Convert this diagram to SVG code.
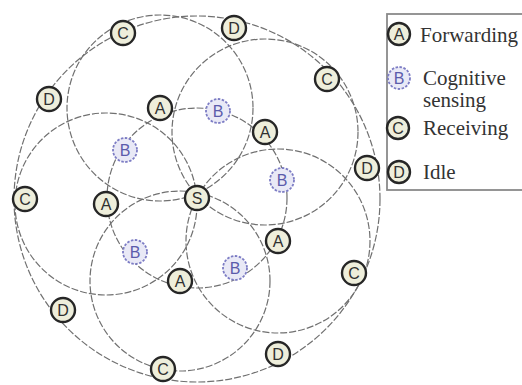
<svg xmlns="http://www.w3.org/2000/svg" width="522" height="385" viewBox="0 0 522 385">
<style>
.ring{fill:none;stroke:#707070;stroke-width:1.2;stroke-dasharray:7 2}
.n circle{fill:#eeeedb;stroke:#262626;stroke-width:2.4}
.n text{font-family:"Liberation Sans",Arial,sans-serif;font-size:16px;fill:#303030;text-anchor:middle;dominant-baseline:central}
.b circle{fill:#e9e9f6;stroke:#7c7cc4;stroke-width:1.8;stroke-dasharray:2.5 1.5}
.b text{font-family:"Liberation Sans",Arial,sans-serif;font-size:16px;fill:#5b5bab;text-anchor:middle;dominant-baseline:central}
.lg{font-family:"Liberation Serif","Times New Roman",serif;font-size:21px;fill:#333}
</style>
<rect width="522" height="385" fill="#fff"/>
<g id="connectors">
<circle class="ring" cx="197" cy="199" r="183"/>
<circle class="ring" cx="197" cy="198" r="90"/>
<circle class="ring" cx="160" cy="108" r="93"/>
<circle class="ring" cx="265" cy="132" r="93"/>
<circle class="ring" cx="278" cy="241" r="92"/>
<circle class="ring" cx="180" cy="281" r="90"/>
<circle class="ring" cx="106" cy="204" r="91"/>
</g>
<g id="S" class="n"><circle cx="197" cy="198" r="12"/><text x="197" y="198">S</text></g>
<g id="A1" class="n"><circle cx="160" cy="108" r="12"/><text x="160" y="108">A</text></g>
<g id="A2" class="n"><circle cx="265" cy="132" r="12"/><text x="265" y="132">A</text></g>
<g id="A3" class="n"><circle cx="278" cy="241" r="12"/><text x="278" y="241">A</text></g>
<g id="A4" class="n"><circle cx="180" cy="281" r="12"/><text x="180" y="281">A</text></g>
<g id="A5" class="n"><circle cx="106" cy="204" r="12"/><text x="106" y="204">A</text></g>
<g id="B1" class="b"><circle cx="218" cy="111" r="12"/><text x="218" y="111">B</text></g>
<g id="B2" class="b"><circle cx="282" cy="180" r="12"/><text x="282" y="180">B</text></g>
<g id="B3" class="b"><circle cx="235" cy="268" r="12"/><text x="235" y="268">B</text></g>
<g id="B4" class="b"><circle cx="135" cy="252" r="12"/><text x="135" y="252">B</text></g>
<g id="B5" class="b"><circle cx="125" cy="150" r="12"/><text x="125" y="150">B</text></g>
<g id="C1" class="n"><circle cx="123" cy="33" r="12"/><text x="123" y="33">C</text></g>
<g id="C2" class="n"><circle cx="327" cy="79" r="12"/><text x="327" y="79">C</text></g>
<g id="C3" class="n"><circle cx="354" cy="273" r="12"/><text x="354" y="273">C</text></g>
<g id="C4" class="n"><circle cx="163" cy="369" r="12"/><text x="163" y="369">C</text></g>
<g id="C5" class="n"><circle cx="25" cy="199" r="12"/><text x="25" y="199">C</text></g>
<g id="D1" class="n"><circle cx="234" cy="28" r="12"/><text x="234" y="28">D</text></g>
<g id="D2" class="n"><circle cx="367" cy="168" r="12"/><text x="367" y="168">D</text></g>
<g id="D3" class="n"><circle cx="278" cy="354" r="12"/><text x="278" y="354">D</text></g>
<g id="D4" class="n"><circle cx="63" cy="310" r="12"/><text x="63" y="310">D</text></g>
<g id="D5" class="n"><circle cx="49" cy="99" r="12"/><text x="49" y="99">D</text></g>
<g id="legend">
<rect x="387" y="14" width="140" height="176" fill="none" stroke="#8a8a8a" stroke-width="1.8"/>
<g class="n"><circle cx="399" cy="34" r="11"/><text x="399" y="34">A</text></g>
<text class="lg" x="420" y="42">Forwarding</text>
<g class="b"><circle cx="399" cy="78" r="11"/><text x="399" y="78">B</text></g>
<text class="lg" x="423" y="85">Cognitive</text>
<text class="lg" x="423" y="107">sensing</text>
<g class="n"><circle cx="398" cy="128" r="11"/><text x="398" y="128">C</text></g>
<text class="lg" x="423" y="135">Receiving</text>
<g class="n"><circle cx="399" cy="172" r="11"/><text x="399" y="172">D</text></g>
<text class="lg" x="423" y="179">Idle</text>
</g>
</svg>
